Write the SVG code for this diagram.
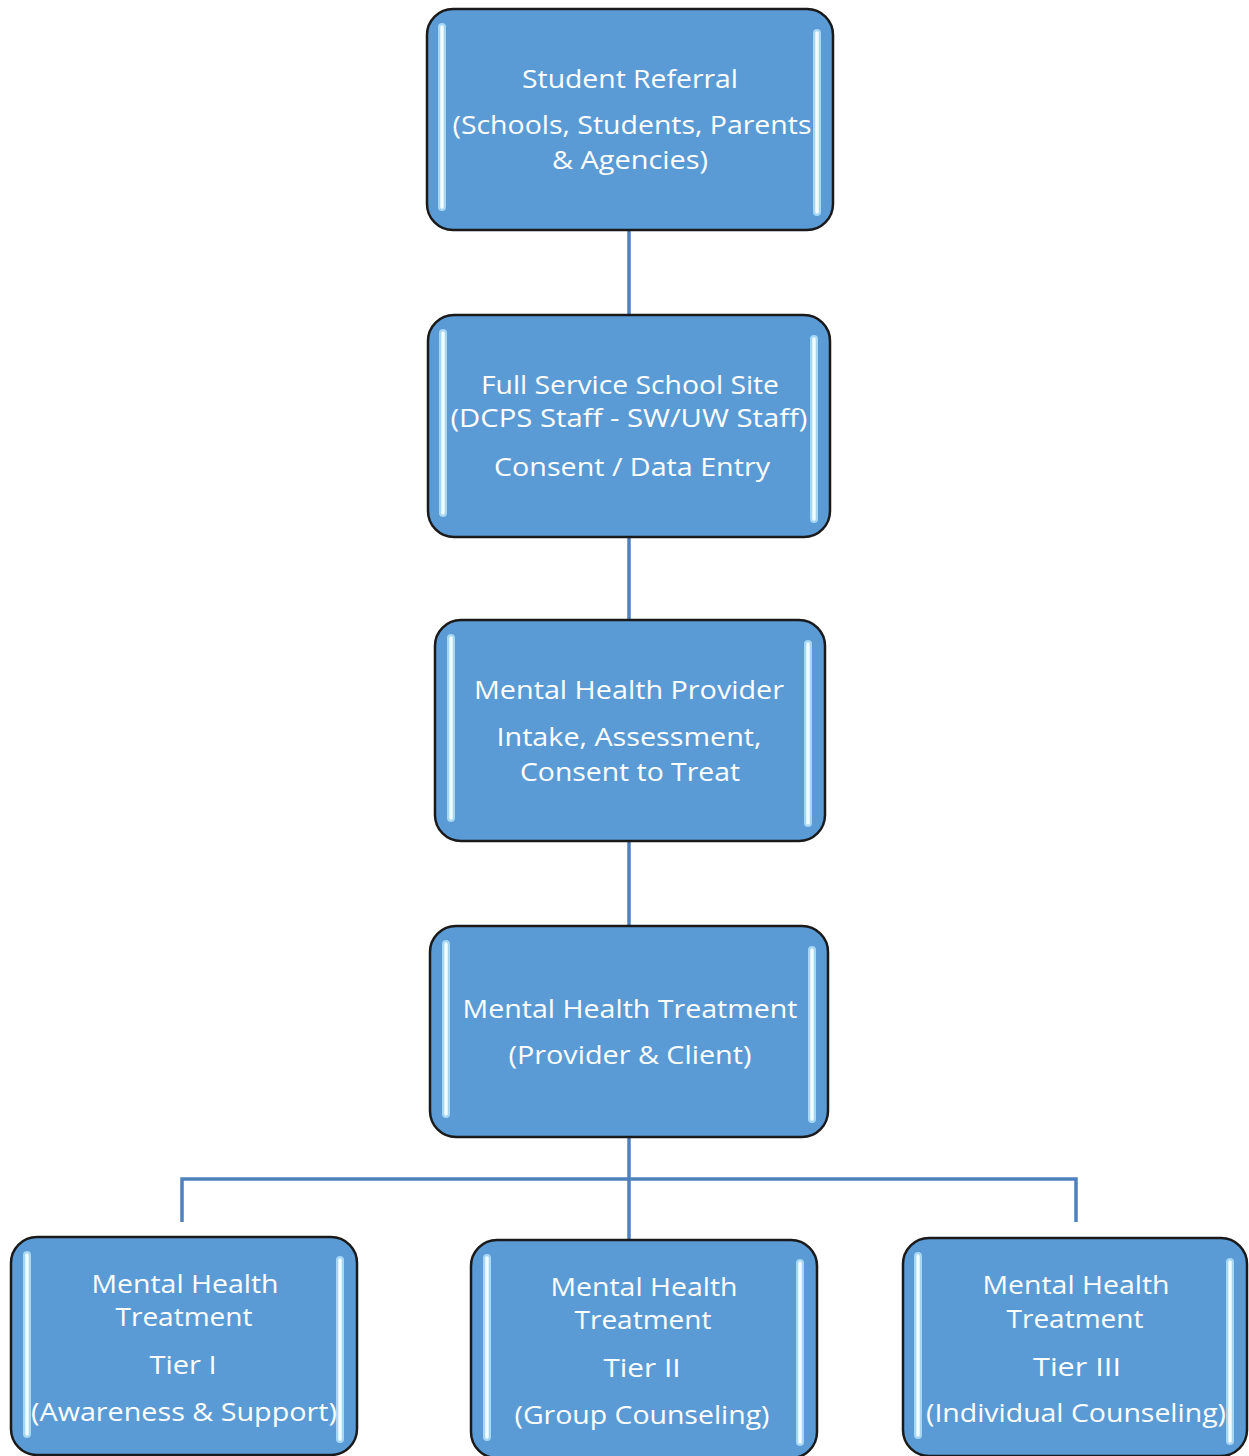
<svg xmlns="http://www.w3.org/2000/svg" width="1249" height="1456" viewBox="0 0 1249 1456">
<style>
.box{fill:#5B9BD5;stroke:#1a1a1a;stroke-width:2.5}
.bar{stroke:#f2fbff;stroke-width:3.5;stroke-linecap:round}
.glow{stroke:#b3e2fb;stroke-width:8;stroke-linecap:round;opacity:0.85}
.t{font-family:"Open Sans","Liberation Sans",Arial,sans-serif;font-size:26px;fill:#ffffff;text-anchor:middle}
.c{stroke:#4F81BD;stroke-width:3.5;fill:none}
</style>
<rect width="1249" height="1456" fill="#ffffff"/>
<g id="connectors">
<line class="c" x1="629" y1="230" x2="629" y2="315"/>
<line class="c" x1="629" y1="537" x2="629" y2="620"/>
<line class="c" x1="629" y1="841" x2="629" y2="926"/>
<line class="c" x1="629" y1="1137" x2="629" y2="1240"/>
<polyline class="c" points="182,1222 182,1179 1076,1179 1076,1222"/>
</g>
<g id="n1">
<rect class="box" x="427" y="9" width="406" height="221" rx="26"/>
<line class="glow" x1="442" y1="27" x2="442" y2="207"/><line class="bar" x1="442" y1="27" x2="442" y2="207"/>
<line class="glow" x1="817" y1="33" x2="817" y2="212"/><line class="bar" x1="817" y1="33" x2="817" y2="212"/>
<text class="t" x="630" y="88" textLength="216" lengthAdjust="spacingAndGlyphs">Student Referral</text>
<text class="t" x="632" y="134" textLength="359" lengthAdjust="spacingAndGlyphs">(Schools, Students, Parents</text>
<text class="t" x="630" y="169" textLength="156" lengthAdjust="spacingAndGlyphs">&amp; Agencies)</text>
</g>
<g id="n2">
<rect class="box" x="428" y="315" width="402" height="222" rx="26"/>
<line class="glow" x1="443" y1="333" x2="443" y2="513"/><line class="bar" x1="443" y1="333" x2="443" y2="513"/>
<line class="glow" x1="814" y1="339" x2="814" y2="519"/><line class="bar" x1="814" y1="339" x2="814" y2="519"/>
<text class="t" x="630" y="394" textLength="298" lengthAdjust="spacingAndGlyphs">Full Service School Site</text>
<text class="t" x="629" y="427" textLength="357" lengthAdjust="spacingAndGlyphs">(DCPS Staff - SW/UW Staff)</text>
<text class="t" x="632" y="476" textLength="276" lengthAdjust="spacingAndGlyphs">Consent / Data Entry</text>
</g>
<g id="n3">
<rect class="box" x="435" y="620" width="390" height="221" rx="26"/>
<line class="glow" x1="451" y1="638" x2="451" y2="818"/><line class="bar" x1="451" y1="638" x2="451" y2="818"/>
<line class="glow" x1="808" y1="644" x2="808" y2="823"/><line class="bar" x1="808" y1="644" x2="808" y2="823"/>
<text class="t" x="629" y="699" textLength="310" lengthAdjust="spacingAndGlyphs">Mental Health Provider</text>
<text class="t" x="629" y="746" textLength="265" lengthAdjust="spacingAndGlyphs">Intake, Assessment,</text>
<text class="t" x="630" y="781" textLength="220" lengthAdjust="spacingAndGlyphs">Consent to Treat</text>
</g>
<g id="n4">
<rect class="box" x="430" y="926" width="398" height="211" rx="26"/>
<line class="glow" x1="446" y1="944" x2="446" y2="1114"/><line class="bar" x1="446" y1="944" x2="446" y2="1114"/>
<line class="glow" x1="812" y1="950" x2="812" y2="1119"/><line class="bar" x1="812" y1="950" x2="812" y2="1119"/>
<text class="t" x="630" y="1018" textLength="335" lengthAdjust="spacingAndGlyphs">Mental Health Treatment</text>
<text class="t" x="630" y="1064" textLength="243" lengthAdjust="spacingAndGlyphs">(Provider &amp; Client)</text>
</g>
<g id="n5">
<rect class="box" x="11" y="1237" width="346" height="218" rx="26"/>
<line class="glow" x1="27" y1="1255" x2="27" y2="1434"/><line class="bar" x1="27" y1="1255" x2="27" y2="1434"/>
<line class="glow" x1="340" y1="1260" x2="340" y2="1439"/><line class="bar" x1="340" y1="1260" x2="340" y2="1439"/>
<text class="t" x="185" y="1293" textLength="187" lengthAdjust="spacingAndGlyphs">Mental Health</text>
<text class="t" x="184" y="1326" textLength="137" lengthAdjust="spacingAndGlyphs">Treatment</text>
<text class="t" x="183" y="1374" textLength="67" lengthAdjust="spacingAndGlyphs">Tier I</text>
<text class="t" x="184" y="1421" textLength="306" lengthAdjust="spacingAndGlyphs">(Awareness &amp; Support)</text>
</g>
<g id="n6">
<rect class="box" x="471" y="1240" width="346" height="218" rx="26"/>
<line class="glow" x1="487" y1="1258" x2="487" y2="1437"/><line class="bar" x1="487" y1="1258" x2="487" y2="1437"/>
<line class="glow" x1="800" y1="1263" x2="800" y2="1442"/><line class="bar" x1="800" y1="1263" x2="800" y2="1442"/>
<text class="t" x="644" y="1296" textLength="187" lengthAdjust="spacingAndGlyphs">Mental Health</text>
<text class="t" x="643" y="1329" textLength="137" lengthAdjust="spacingAndGlyphs">Treatment</text>
<text class="t" x="642" y="1377" textLength="77" lengthAdjust="spacingAndGlyphs">Tier II</text>
<text class="t" x="642" y="1424" textLength="255" lengthAdjust="spacingAndGlyphs">(Group Counseling)</text>
</g>
<g id="n7">
<rect class="box" x="903" y="1238" width="344" height="218" rx="26"/>
<line class="glow" x1="918" y1="1256" x2="918" y2="1435"/><line class="bar" x1="918" y1="1256" x2="918" y2="1435"/>
<line class="glow" x1="1230" y1="1262" x2="1230" y2="1441"/><line class="bar" x1="1230" y1="1262" x2="1230" y2="1441"/>
<text class="t" x="1076" y="1294" textLength="187" lengthAdjust="spacingAndGlyphs">Mental Health</text>
<text class="t" x="1075" y="1328" textLength="137" lengthAdjust="spacingAndGlyphs">Treatment</text>
<text class="t" x="1077" y="1376" textLength="88" lengthAdjust="spacingAndGlyphs">Tier III</text>
<text class="t" x="1076" y="1422" textLength="300" lengthAdjust="spacingAndGlyphs">(Individual Counseling)</text>
</g>
</svg>
